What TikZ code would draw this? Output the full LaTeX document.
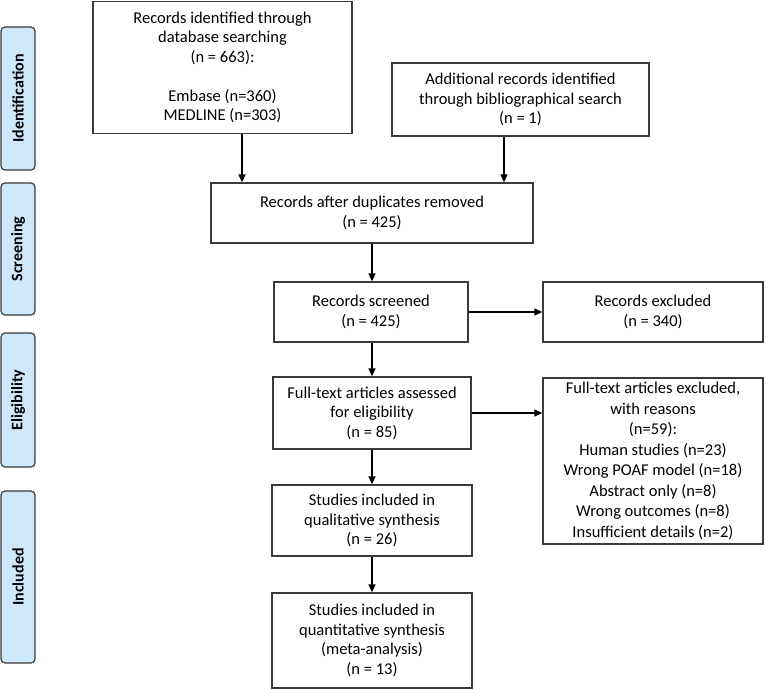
\documentclass[tikz,border=0pt]{standalone}
\usepackage{fontspec}
\setmainfont{Carlito}
\usetikzlibrary{arrows.meta}
\definecolor{sidefill}{HTML}{CDE8FB}
\definecolor{boxline}{HTML}{3A3A3A}
\begin{document}
\begin{tikzpicture}[x=1pt,y=-1pt,
  box/.style={draw=boxline,line width=1.3pt,fill=white,inner sep=0pt,align=center,
    font=\fontsize{16.5}{19.5}\selectfont},
  side/.style={draw=boxline,line width=1.2pt,fill=sidefill,rounded corners=4pt,inner sep=0pt,
    minimum width=34pt},
  sidetext/.style={rotate=90,font=\fontsize{16}{18}\selectfont\bfseries},
  arr/.style={line width=1.5pt,-{Triangle[length=8pt,width=7pt]}}]
\useasboundingbox (0,0) rectangle (766,689);
% phase labels
\node[side,minimum height=143pt] (pid) at (18,98.5) {};
\node[sidetext] (tid) at (pid.center) {Identification};
\node[side,minimum height=132pt] (psc) at (18,249) {};
\node[sidetext] (tsc) at (psc.center) {Screening};
\node[side,minimum height=134pt] (pel) at (18,400) {};
\node[sidetext] (tel) at (pel.center) {Eligibility};
\node[side,minimum height=172pt] (pin) at (18,577) {};
\node[sidetext] (tin) at (pin.center) {Included};
% boxes
\node[box,minimum width=259pt,minimum height=132pt] (b1) at (222.5,67.5)
  {Records identified through\\database searching\\(n = 663):\\[19.5pt]Embase (n=360)\\MEDLINE (n=303)};
\node[box,minimum width=257pt,minimum height=73pt] (b2) at (520.5,99.5)
  {Additional records identified\\through bibliographical search\\(n = 1)};
\node[box,minimum width=322pt,minimum height=60pt] (b3) at (372,213)
  {Records after duplicates removed\\(n = 425)};
\node[box,minimum width=194pt,minimum height=60pt] (b4) at (371,312)
  {Records screened\\(n = 425)};
\node[box,minimum width=220pt,minimum height=60pt] (b5) at (653,312)
  {Records excluded\\(n = 340)};
\node[box,minimum width=198pt,minimum height=72pt] (b6) at (372,413)
  {Full-text articles assessed\\for eligibility\\(n = 85)};
\node[box,minimum width=220pt,minimum height=166pt,font=\fontsize{16.5}{20.5}\selectfont] (b7) at (653,461)
  {Full-text articles excluded,\\with reasons\\(n=59):\\Human studies (n=23)\\Wrong POAF model (n=18)\\Abstract only (n=8)\\Wrong outcomes (n=8)\\Insufficient details (n=2)};
\node[box,minimum width=200pt,minimum height=71pt] (b8) at (372,520.5)
  {Studies included in\\qualitative synthesis\\(n = 26)};
\node[box,minimum width=200pt,minimum height=95pt] (b9) at (372,640.5)
  {Studies included in\\quantitative synthesis\\(meta-analysis)\\(n = 13)};
% connectors
\coordinate (x1) at (242,0);
\coordinate (x2) at (504,0);
\coordinate (xc) at (372,0);
\draw[arr] (b1.south -| x1) -- (b3.north -| x1);
\draw[arr] (b2.south -| x2) -- (b3.north -| x2);
\draw[arr] (b3.south -| xc) -- (b4.north -| xc);
\draw[arr] (b4.east) -- (b5.west |- b4.east);
\draw[arr] (b4.south -| xc) -- (b6.north -| xc);
\draw[arr] (b6.east) -- (b7.west |- b6.east);
\draw[arr] (b6.south -| xc) -- (b8.north -| xc);
\draw[arr] (b8.south -| xc) -- (b9.north -| xc);
\end{tikzpicture}
\end{document}
